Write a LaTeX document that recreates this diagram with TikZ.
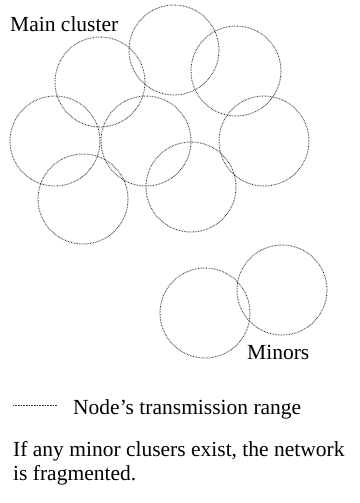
\documentclass[tikz,border=0pt]{standalone}
\usepackage{fontspec}
\setmainfont{Liberation Serif}
\usetikzlibrary{positioning}

\begin{document}
\begin{tikzpicture}[
x=1pt, y=-1pt,
txrange/.style={circle, draw=black!80, line width=0.9pt, dash pattern=on 0.7pt off 0.9pt, minimum size=90pt, inner sep=0pt},
lbl/.style={font=\rmfamily\fontsize{21.5}{23.5}\selectfont, inner sep=0pt}
]
\useasboundingbox (0,0) rectangle (359,503);

% Main cluster
\node[txrange] (top) at (174,50) {};
\node[txrange] (upleft) at (100,82) {};
\node[txrange] (upright) at (236,71) {};
\node[txrange] (midleft) at (55,141) {};
\node[txrange] (center) at (146,141) {};
\node[txrange] (midright) at (264,141) {};
\node[txrange] (lowleft) at (83,199) {};
\node[txrange] (lowcenter) at (191,187) {};

% Minors
\node[txrange] (minleft) at (205,313) {};
\node[txrange] (minright) at (282,290) {};

% Labels
\node[lbl, anchor=base west] (mainlbl) at (10,32) {Main cluster};
\node[lbl, anchor=base west] (minlbl) at (247,359) {Minors};

% Legend
\coordinate (legstart) at (13,405);
\node[lbl, anchor=base west] (legend) at (73,414) {Node’s transmission range};
\draw[draw=black!80, line width=0.9pt, dash pattern=on 0.7pt off 0.9pt] (legstart) -- ([xshift=-16pt]legend.west |- legstart);

\node[lbl, anchor=base west, align=left] (note) at (13,480) {If any minor clusers exist, the network\\is fragmented.};

\end{tikzpicture}
\end{document}
